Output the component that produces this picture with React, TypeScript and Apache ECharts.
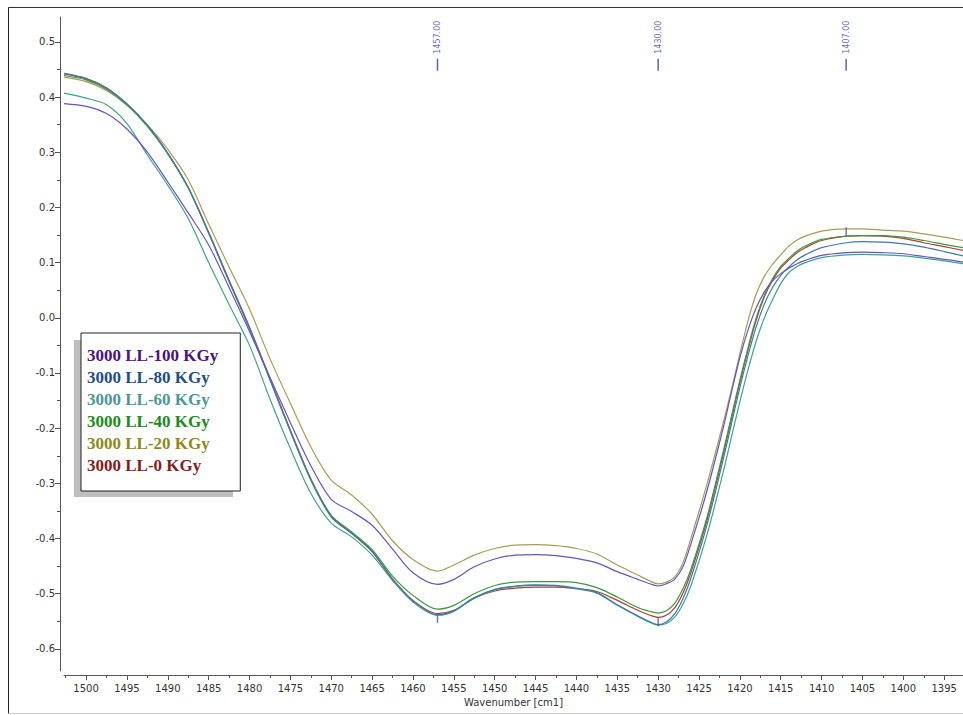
import { useEffect, useRef } from "react";
import * as echarts from "echarts";

// Spectral axis sample positions (cm-1), read left to right
const wavenumbers = [
  1502.7, 1500, 1497.5, 1495, 1492.5, 1490, 1487.5, 1485, 1482.5, 1480,
  1477.5, 1475, 1472.5, 1470, 1467.5, 1465, 1462.5, 1460, 1457, 1455,
  1452.5, 1450, 1447.5, 1445, 1442.5, 1440, 1437.5,
  1435, 1432.5, 1431, 1430, 1429, 1428, 1427, 1426, 1424, 1422,
  1421, 1420, 1419, 1418, 1417, 1416, 1415, 1414, 1413, 1412,
  1410, 1407, 1405, 1402.5, 1400, 1397.5, 1395, 1392.7,
];

const ll100 = [
  0.388, 0.383, 0.37, 0.342, 0.3, 0.246, 0.19, 0.132, 0.055, -0.025,
  -0.108, -0.19, -0.268, -0.329, -0.351, -0.376, -0.419, -0.462, -0.483, -0.474,
  -0.451, -0.437, -0.43, -0.429, -0.431, -0.436, -0.444,
  -0.46, -0.474, -0.482, -0.486, -0.482, -0.474, -0.452, -0.41, -0.312, -0.197,
  -0.133, -0.072, -0.022, 0.018, 0.047, 0.067, 0.08, 0.09, 0.098, 0.104,
  0.113, 0.118, 0.119, 0.118, 0.116, 0.111, 0.106, 0.101,
];
const ll80 = [
  0.443, 0.434, 0.417, 0.388, 0.349, 0.298, 0.236, 0.154, 0.066, -0.019,
  -0.112, -0.206, -0.294, -0.361, -0.391, -0.424, -0.474, -0.513, -0.538, -0.531,
  -0.507, -0.492, -0.486, -0.484, -0.485, -0.49, -0.498,
  -0.52, -0.54, -0.551, -0.556, -0.551, -0.537, -0.51, -0.472, -0.374, -0.254,
  -0.19, -0.126, -0.068, -0.016, 0.025, 0.055, 0.077, 0.092, 0.105, 0.114,
  0.127, 0.136, 0.138, 0.137, 0.134, 0.128, 0.12, 0.112,
];
const ll60 = [
  0.407, 0.398, 0.386, 0.352, 0.295, 0.24, 0.18, 0.1, 0.024, -0.05,
  -0.147, -0.237, -0.318, -0.372, -0.397, -0.43, -0.476, -0.515, -0.539, -0.532,
  -0.508, -0.493, -0.487, -0.485, -0.486, -0.491, -0.499,
  -0.521, -0.541, -0.552, -0.557, -0.554, -0.543, -0.52, -0.486, -0.392, -0.277,
  -0.214, -0.152, -0.094, -0.042, 0.0, 0.033, 0.062, 0.082, 0.093, 0.1,
  0.109, 0.114, 0.115, 0.114, 0.112, 0.108, 0.103, 0.098,
];
const ll40 = [
  0.439, 0.431, 0.414, 0.386, 0.347, 0.297, 0.235, 0.153, 0.066, -0.019,
  -0.112, -0.205, -0.292, -0.358, -0.388, -0.42, -0.468, -0.503, -0.528, -0.521,
  -0.5, -0.485, -0.479, -0.478, -0.478, -0.48, -0.489,
  -0.506, -0.525, -0.532, -0.535, -0.531, -0.518, -0.492, -0.456, -0.36, -0.24,
  -0.176, -0.113, -0.054, 0.0, 0.041, 0.071, 0.093, 0.108, 0.121, 0.13,
  0.142, 0.148, 0.149, 0.149, 0.146, 0.14, 0.133, 0.127,
];
const ll20 = [
  0.436, 0.428, 0.412, 0.385, 0.35, 0.305, 0.25, 0.17, 0.092, 0.016,
  -0.074, -0.155, -0.234, -0.294, -0.321, -0.356, -0.404, -0.438, -0.459, -0.448,
  -0.43, -0.418, -0.412, -0.411, -0.413, -0.418, -0.428,
  -0.448, -0.466, -0.477, -0.482, -0.479, -0.47, -0.445, -0.4, -0.3, -0.188,
  -0.128, -0.065, -0.005, 0.043, 0.075, 0.097, 0.114, 0.13, 0.141, 0.148,
  0.157, 0.161, 0.161, 0.159, 0.157, 0.152, 0.146, 0.14,
];
const ll0 = [
  0.442, 0.433, 0.416, 0.387, 0.348, 0.298, 0.236, 0.155, 0.068, -0.017,
  -0.11, -0.204, -0.292, -0.359, -0.39, -0.423, -0.473, -0.512, -0.536, -0.53,
  -0.508, -0.495, -0.49, -0.488, -0.488, -0.491, -0.496,
  -0.512, -0.53, -0.539, -0.543, -0.539, -0.526, -0.5, -0.462, -0.365, -0.245,
  -0.181, -0.117, -0.058, -0.004, 0.038, 0.068, 0.09, 0.105, 0.118, 0.127,
  0.14, 0.148, 0.149, 0.148, 0.144, 0.136, 0.129, 0.122,
];

// Picked peak positions and the small markers placed on the spectra
const peakWavenumbers = [1457, 1430, 1407];
const peakMarkerValues = [-0.5455, -0.551, 0.157];
const PEAK_LABEL_Y = 0.4585;

// Axis ranges and tick positions
const X_MIN = 1392.7;
const X_MAX = 1502.7;
const Y_MIN = -0.64;
const Y_MAX = 0.545;
const xMajorTicks = [1500, 1495, 1490, 1485, 1480, 1475, 1470, 1465, 1460, 1455, 1450, 1445, 1440, 1435, 1430, 1425, 1420, 1415, 1410, 1405, 1400, 1395];
const xMinorTicks = [1502.5, 1497.5, 1492.5, 1487.5, 1482.5, 1477.5, 1472.5, 1467.5, 1462.5, 1457.5, 1452.5, 1447.5, 1442.5, 1437.5, 1432.5, 1427.5, 1422.5, 1417.5, 1412.5, 1407.5, 1402.5, 1397.5];
const yMajorTicks = [-0.6, -0.5, -0.4, -0.3, -0.2, -0.1, 0, 0.1, 0.2, 0.3, 0.4, 0.5];
const yMinorTicks = [-0.55, -0.45, -0.35, -0.25, -0.15, -0.05, 0.05, 0.15, 0.25, 0.35, 0.45];

const spectra = [
  { name: "3000 LL-100 KGy", values: ll100, line: "#6654c6", text: "#4a1286" },
  { name: "3000 LL-80 KGy", values: ll80, line: "#3f78b0", text: "#1f4e89" },
  { name: "3000 LL-60 KGy", values: ll60, line: "#3aa58c", text: "#4b9797" },
  { name: "3000 LL-40 KGy", values: ll40, line: "#3c9a3c", text: "#1a8c1a" },
  { name: "3000 LL-20 KGy", values: ll20, line: "#a89c55", text: "#8b8a1a" },
  { name: "3000 LL-0 KGy", values: ll0, line: "#b23c3c", text: "#8b1a1a" },
];

const AXIS_COLOR = "#555";
const LABEL_FONT = "DejaVu Sans";
const PEAK_COLOR = "#3c3ca8";

export default function App() {
  const ref = useRef<HTMLDivElement>(null);

  useEffect(() => {
    if (!ref.current) return;
    const chart = echarts.init(ref.current, null, { renderer: "svg" });

    const axisCommonX = {
      type: "value",
      position: "bottom",
      min: X_MIN,
      max: X_MAX,
      inverse: true,
      offset: 4,
      splitLine: { show: false },
    };
    const axisCommonY = {
      type: "value",
      position: "left",
      min: Y_MIN,
      max: Y_MAX,
      offset: 4,
      splitLine: { show: false },
    };

    const lineSeries = [...spectra].reverse().map((s) => ({
      type: "line",
      name: s.name,
      data: wavenumbers.map((w, i) => [w, s.values[i]]),
      showSymbol: false,
      smooth: 0.3,
      lineStyle: { width: 1.2, color: s.line },
      itemStyle: { color: s.line },
      z: 2,
    }));

    chart.setOption({
      animation: false,
      backgroundColor: "#ffffff",
      grid: { left: 64, right: 0, top: 17, bottom: 44, containLabel: false },
      xAxis: [
        {
          ...axisCommonX,
          axisLine: { show: true, onZero: false, lineStyle: { color: AXIS_COLOR, width: 1 } },
          axisTick: { show: true, customValues: xMajorTicks, length: 5, lineStyle: { color: AXIS_COLOR } },
          axisLabel: {
            show: true,
            customValues: xMajorTicks,
            margin: 8,
            fontSize: 10,
            color: "#333",
            fontFamily: LABEL_FONT,
            formatter: (v: number) => String(v),
          },
          name: "Wavenumber [cm1]",
          nameLocation: "middle",
          nameGap: 22,
          nameTextStyle: { fontSize: 10, color: "#333", fontFamily: LABEL_FONT },
        },
        {
          ...axisCommonX,
          axisLine: { show: false, onZero: false },
          axisTick: { show: true, customValues: xMinorTicks, length: 3, lineStyle: { color: AXIS_COLOR } },
          axisLabel: { show: false },
        },
      ],
      yAxis: [
        {
          ...axisCommonY,
          axisLine: { show: true, onZero: false, lineStyle: { color: AXIS_COLOR, width: 1 } },
          axisTick: { show: true, customValues: yMajorTicks, length: 5, lineStyle: { color: AXIS_COLOR } },
          axisLabel: {
            show: true,
            customValues: yMajorTicks,
            margin: 5,
            fontSize: 10,
            color: "#333",
            fontFamily: LABEL_FONT,
            formatter: (v: number) => v.toFixed(1),
          },
        },
        {
          ...axisCommonY,
          axisLine: { show: false, onZero: false },
          axisTick: { show: true, customValues: yMinorTicks, length: 3, lineStyle: { color: AXIS_COLOR } },
          axisLabel: { show: false },
        },
      ],
      legend: {
        left: 81,
        top: 333,
        orient: "vertical",
        icon: "none",
        itemWidth: 0,
        itemHeight: 14,
        itemGap: 0,
        padding: [11, 22, 15, 1],
        backgroundColor: "#ffffff",
        borderColor: "#222",
        borderWidth: 1,
        borderRadius: 0,
        selectedMode: false,
        textStyle: {
          fontFamily: "Liberation Serif",
          fontWeight: "bold",
          fontSize: 17,
          lineHeight: 22,
        },
        data: spectra.map((s) => ({ name: s.name, textStyle: { color: s.text } })),
      },
      graphic: [
        {
          type: "line",
          silent: true,
          z: -10,
          shape: { x1: 8.5, y1: 7.5, x2: 970, y2: 7.5 },
          style: { stroke: "#333", lineWidth: 1 },
        },
        {
          type: "line",
          silent: true,
          z: -10,
          shape: { x1: 8.5, y1: 7.5, x2: 8.5, y2: 713.5 },
          style: { stroke: "#222", lineWidth: 1 },
        },
        {
          type: "line",
          silent: true,
          z: -10,
          shape: { x1: 8.5, y1: 713.5, x2: 970, y2: 713.5 },
          style: { stroke: "#d0d0d0", lineWidth: 1 },
        },
        {
          type: "rect",
          silent: true,
          z: 1,
          shape: { x: 74, y: 340, width: 159, height: 157 },
          style: { fill: "#bfbfbf" },
        },
      ],
      series: [
        ...lineSeries,
        {
          type: "scatter",
          name: "peak labels",
          silent: true,
          data: peakWavenumbers.map((w) => [w, PEAK_LABEL_Y]),
          symbol: "rect",
          symbolSize: [1.5, 12],
          itemStyle: { color: PEAK_COLOR },
          label: {
            show: true,
            position: "top",
            distance: 5,
            rotate: 90,
            align: "left",
            verticalAlign: "middle",
            fontSize: 8,
            color: PEAK_COLOR,
            fontFamily: LABEL_FONT,
            formatter: (p: any) => Number(p.value[0]).toFixed(2),
          },
          z: 5,
        },
        {
          type: "scatter",
          name: "peak marks",
          silent: true,
          data: peakWavenumbers.map((w, i) => [w, peakMarkerValues[i]]),
          symbol: "rect",
          symbolSize: [1.5, 8],
          itemStyle: { color: "#5050b8" },
          z: 5,
        },
      ],
    });

    return () => chart.dispose();
  }, []);

  return (
    <div
      ref={ref}
      style={{ position: "absolute", left: 0, top: 0, width: 963, height: 715, background: "#fff" }}
    />
  );
}
